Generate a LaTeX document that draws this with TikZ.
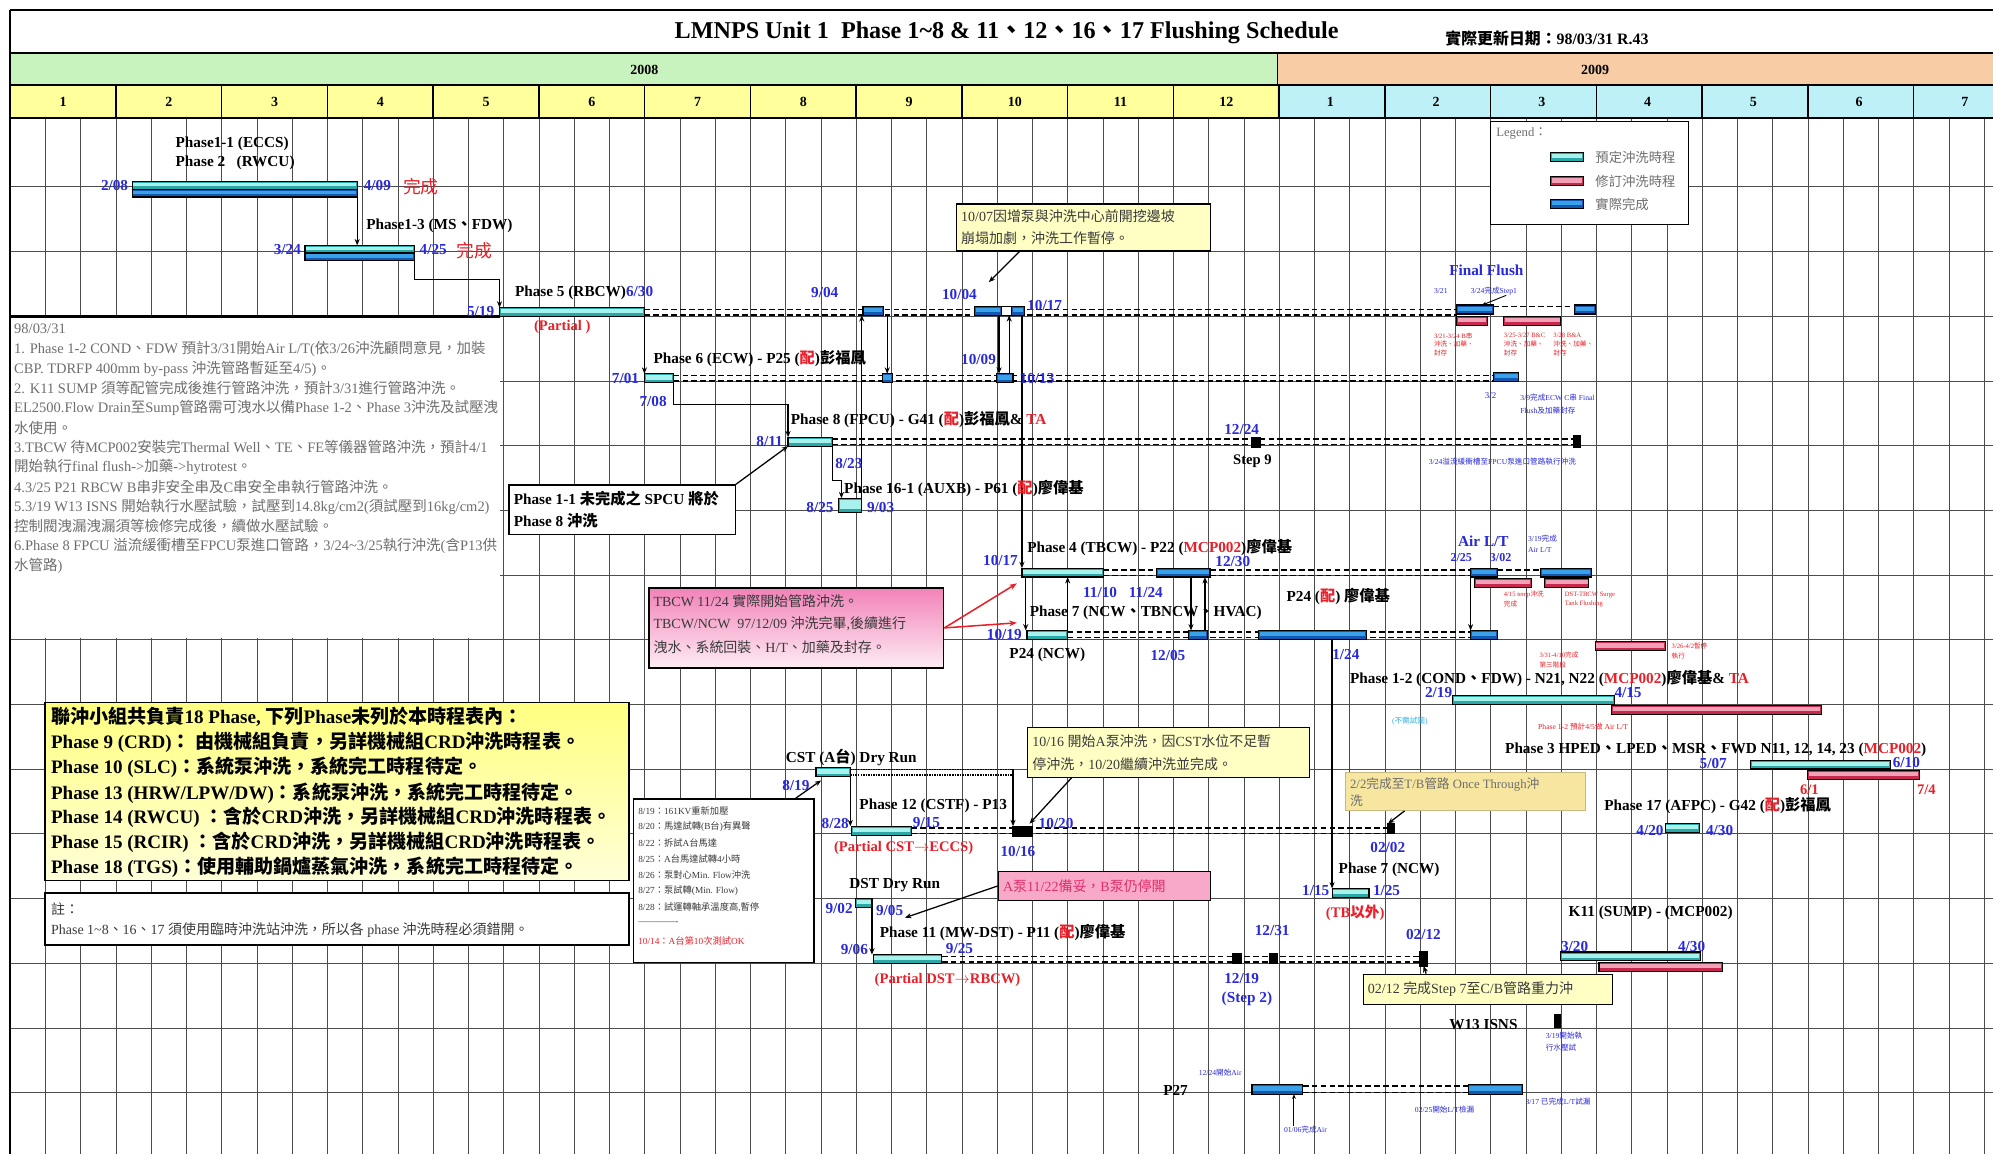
\documentclass[tikz,border=0pt]{standalone}
\usepackage{fontspec}
\setmainfont{Liberation Serif}
\newfontfamily\cjkfont{Noto Sans CJK TC}
\usetikzlibrary{arrows.meta}
\pgfdeclarelayer{bglayer}
\pgfdeclarelayer{gridlayer}
\pgfdeclarelayer{dashlayer}
\pgfsetlayers{bglayer,gridlayer,dashlayer,main}
\XeTeXinterchartokenstate=1
\newXeTeXintercharclass\CJKclass
\newcount\cjkc
\def\setcjkrange#1#2{\cjkc=#1\relax
  \loop\XeTeXcharclass\cjkc=\CJKclass\relax
  \ifnum\cjkc<#2\relax\advance\cjkc by 1\relax\repeat}
\setcjkrange{"3000}{"303F}
\setcjkrange{"4E00}{"9FFF}
\setcjkrange{"FF00}{"FFEF}
\XeTeXinterchartoks 0 \CJKclass = {\begingroup\cjkfont}
\XeTeXinterchartoks 4095 \CJKclass = {\begingroup\cjkfont}
\XeTeXinterchartoks \CJKclass 0 = {\endgroup}
\XeTeXinterchartoks \CJKclass 4095 = {\endgroup}
\definecolor{dblue}{HTML}{2A2AD8}
\definecolor{dred}{HTML}{E8202A}
\definecolor{gtext}{HTML}{6E6E6E}
\definecolor{ntext}{HTML}{3A3A3A}
\definecolor{cyanF}{HTML}{2AA8A8}
\definecolor{cyanS}{HTML}{A8F2EE}
\definecolor{blueF}{HTML}{1258B0}
\definecolor{blueS}{HTML}{3AA0EA}
\definecolor{pinkF}{HTML}{C82850}
\definecolor{pinkS}{HTML}{F2A0B6}
\definecolor{yr08}{HTML}{C8F2BE}
\definecolor{yr09}{HTML}{F8CCA4}
\definecolor{mo08}{HTML}{FFFF9C}
\definecolor{mo09}{HTML}{BEF0F8}
\definecolor{noteY}{HTML}{FFFFC4}
\definecolor{noteYY}{HTML}{F6E6A0}
\definecolor{bigY}{HTML}{FFFF80}
\definecolor{bigYb}{HTML}{FFFFD8}
\definecolor{noteP}{HTML}{F282B8}
\definecolor{notePP}{HTML}{F8A8C8}
\definecolor{pinkT}{HTML}{E0306A}
\definecolor{tcyan}{HTML}{30B0E0}
\newcommand\gb[5]{\pgfmathsetmacro\gbw{#4-#3}\node[#2, minimum width=\gbw pt, anchor=north west] (#1) at (#3,#5) {};}
\newcommand\boxnode[6]{\pgfmathsetmacro\bxw{#5-#3}\pgfmathsetmacro\bxh{#6-#4}\node[#2, minimum width=\bxw pt, minimum height=\bxh pt, anchor=north west, inner sep=0pt] (#1) at (#3,#4) {};}
\newcommand\ddl[3][dl]{\draw[#1] ([yshift=-1.3pt]#2.north east) -- ([yshift=-1.3pt]#2.north east -| #3.west); \draw[#1] ([yshift=1.3pt]#2.south east) -- ([yshift=1.3pt]#2.south east -| #3.west);}
\tikzset{
 gbar/.style={draw=black, line width=0.9pt, inner sep=0pt, outer sep=0pt, minimum height=#1},
 striped/.style 2 args={fill=#1, path picture={\fill[#2] ([xshift=1pt,yshift=-1.2pt]path picture bounding box.north west) rectangle ([xshift=-1pt,yshift=2.4pt]path picture bounding box.south east);}},
 cb/.style={gbar=#1, striped={cyanF}{cyanS}}, cb/.default=7pt,
 bb/.style={gbar=#1, striped={blueF}{blueS}}, bb/.default=7pt,
 pb/.style={gbar=#1, striped={pinkF}{pinkS}}, pb/.default=7pt,
 mk/.style={gbar=#1, fill=black}, mk/.default=8pt,
 wb/.style={gbar=7pt, fill=white},
 notebox/.style={draw=black, line width=1pt},
 ph/.style={anchor=west, inner sep=0pt, font=\fontsize{12}{14}\selectfont\bfseries},
 dt/.style={anchor=west, inner sep=0pt, font=\fontsize{12}{14}\selectfont\bfseries, text=dblue},
 dte/.style={dt, anchor=east},
 rdt/.style={anchor=west, inner sep=0pt, font=\fontsize{11.5}{14}\selectfont\bfseries, text=dred},
 done/.style={anchor=west, inner sep=0pt, font=\fontsize{14}{16}\selectfont, text=dred},
 tb/.style={anchor=west, inner sep=0pt, font=\fontsize{6}{7}\selectfont, text=dblue},
 tr/.style={anchor=west, inner sep=0pt, font=\fontsize{5.2}{6.5}\selectfont, text=dred},
 gt/.style={anchor=west, inner sep=0pt, font=\fontsize{11.4}{13}\selectfont, text=gtext},
 nt/.style={anchor=west, inner sep=0pt, font=\fontsize{11}{13}\selectfont, text=ntext},
 yb/.style={anchor=west, inner sep=0pt, font=\fontsize{15}{18}\selectfont\bfseries},
 sm/.style={anchor=west, inner sep=0pt, font=\fontsize{7.3}{8}\selectfont, text=ntext},
 mol/.style={inner sep=0pt, font=\fontsize{11}{13}\selectfont\bfseries},
 gridl/.style={line width=0.6pt, black!70},
 dl/.style={dash pattern=on 4.5pt off 2.5pt, line width=1.1pt},
 dd/.style={dash pattern=on 1.2pt off 0.8pt, line width=1.1pt},
 ar/.style={-{Stealth[length=5pt,width=4pt]}, line width=1pt},
 ars/.style={-{Stealth[length=3.5pt,width=3pt]}, line width=0.7pt},
 rar/.style={-{Stealth[length=6pt,width=4.5pt]}, line width=1.2pt, draw=dred, fill=dred},
}
\begin{document}
\begin{tikzpicture}[x=1pt,y=-1pt]
\useasboundingbox (0,0) rectangle (1568,908);
\begin{pgfonlayer}{bglayer}
\fill[white] (0,0) rectangle (1568,908);
\end{pgfonlayer}
% ---------- grid ----------
\begin{pgfonlayer}{gridlayer}
\foreach \i in {1,...,56} \draw[gridl] ({8+27.733*\i},93) -- ({8+27.733*\i},908);
\foreach \j in {0,...,15} \draw[gridl] (8,{147+50.9*\j}) -- (1568,{147+50.9*\j});
\end{pgfonlayer}
% ---------- header ----------
\fill[white] (8,8) rectangle (1568,42);
\fill[yr08] (8,42) rectangle (1005,67);
\fill[yr09] (1005,42) rectangle (1568,67);
\fill[mo08] (8,67) rectangle (1005,93);
\fill[mo09] (1005,67) rectangle (1568,93);
\foreach \k in {1,...,18} \draw[line width=1.2pt] ({8+83.2*\k},67) -- ({8+83.2*\k},93);
\draw[line width=1.2pt] (1005,42) -- (1005,67);
\foreach \yy in {8,42,67,93} \draw[line width=1.6pt] (8,\yy) -- (1568,\yy);
\draw[line width=1.6pt] (8,8) -- (8,908);
\node[inner sep=0pt, font=\fontsize{19}{22}\selectfont\bfseries] (title) at (792,26) {LMNPS Unit 1\ \ Phase 1\textasciitilde 8 \& 11、12、16、17 Flushing Schedule};
\node[anchor=west, inner sep=0pt, font=\fontsize{12.5}{14}\selectfont\bfseries] (upd) at (1137,30) {實際更新日期：98/03/31 R.43};
\node[mol] (y08) at (507,55) {2008};
\node[mol] (y09) at (1255,55) {2009};
\foreach \k in {1,...,12} \node[mol] (ma\k) at ({8+83.2*(\k-0.5)},80) {\k};
\foreach \k in {1,...,7} \node[mol] (mb\k) at ({1005+83.2*(\k-0.5)},80) {\k};
% ---------- white text area & boxes ----------
\fill[white] (9,250) rectangle (393.5,502);
\draw[line width=1.6pt] (8,249) -- (393.5,249);
\boxnode{leg}{notebox, line width=0.8pt, fill=white}{1172}{95}{1328}{176}
\boxnode{n0}{notebox, fill=noteY}{752}{160}{952}{197}
\boxnode{n1}{notebox, fill=white}{400}{381}{578}{420}
\boxnode{n2}{notebox, top color=noteP, bottom color=noteP!15!white}{510}{462}{742}{525}
\boxnode{n3}{notebox, fill=noteYY, draw=noteYY!80!black}{1058}{607}{1247}{637}
\boxnode{n4}{notebox, fill=noteY}{808}{572}{1030}{611}
\boxnode{n5}{notebox, fill=white}{498}{628}{640}{757}
\boxnode{n6}{notebox, fill=notePP}{785}{685}{952}{708}
\boxnode{n7}{notebox, fill=noteY}{1072}{766}{1268}{790}
\boxnode{n8}{notebox, line width=1.3pt, top color=bigY, bottom color=bigYb}{35}{552}{494}{692}
\boxnode{n9}{notebox, line width=1.3pt, fill=white}{35}{702}{494}{743}
% ---------- bars ----------
\gb{lg1}{cb}{1220}{1246}{120}
\gb{lg2}{pb}{1220}{1246}{139}
\gb{lg3}{bb}{1220}{1246}{157}
\gb{b1c}{cb=6pt}{104}{281}{143}
\gb{b1b}{bb=6pt}{104}{281}{149}
\gb{b3c}{cb=6pt}{240}{326}{193}
\gb{b3b}{bb=6pt}{240}{326}{199}
\gb{b5}{cb}{393}{507}{242}
\gb{b904}{bb}{679}{695}{241}
\gb{b1004}{bb}{767}{788}{241}
\gb{bwx}{wb}{788}{796}{241}
\gb{b1017}{bb}{796}{806}{241}
\gb{ff1}{bb}{1146}{1175}{240}
\gb{ff2}{pb}{1146}{1170}{249}
\gb{ff3}{pb}{1183}{1228}{249}
\gb{ff4}{bb}{1239}{1255}{240}
\gb{b6}{cb}{507}{530}{294}
\gb{b6a}{bb}{694}{702}{294}
\gb{b6b}{bb}{784}{797}{294}
\gb{b6c}{bb}{1175}{1195}{293}
\gb{b8}{cb}{620}{655}{344}
\gb{bk1}{mk=8pt}{985}{992}{344}
\gb{bk2}{mk=9pt}{1238}{1243}{343}
\gb{b16}{cb=11pt}{660}{678}{392}
\gb{b4}{cb}{804}{868}{447}
\gb{b4b}{bb}{910}{952}{447}
\gb{b7}{cb}{808}{840}{496}
\gb{b7b}{bb}{935}{950}{496}
\gb{b7c}{bb}{990}{1075}{496}
\gb{b7d}{bb}{1157}{1178}{496}
\gb{al1}{bb}{1157}{1178}{447}
\gb{al2}{pb}{1160}{1205}{455}
\gb{al3}{bb}{1212}{1252}{447}
\gb{al4}{pb}{1215}{1250}{455}
\gb{ps}{pb}{1255}{1310}{505}
\gb{p12}{cb}{1143}{1270}{547}
\gb{p12r}{pb}{1268}{1433}{555}
\gb{p3}{cb}{1377}{1487}{598}
\gb{p3r}{pb}{1422}{1510}{606}
\gb{p17}{cb}{1310}{1337}{648}
\gb{bk3}{mk=8pt}{1092}{1097}{648}
\gb{cst}{cb}{642}{669}{604}
\gb{p12b}{cb}{670}{717}{650}
\gb{bk4}{mk=8pt}{797}{812}{650}
\gb{dst}{cb}{673}{686}{707}
\gb{p11}{cb}{687}{741}{751}
\gb{bk5}{mk=8pt}{970}{977}{750}
\gb{bk6}{mk=8pt}{999}{1005}{750}
\gb{bk7}{mk=11pt}{1117}{1123}{749}
\gb{p7n}{cb}{1048}{1077}{699}
\gb{k11}{cb}{1228}{1338}{749}
\gb{k11r}{pb}{1258}{1355}{757}
\gb{bk8}{mk=10pt}{1223}{1228}{798}
\gb{p27a}{bb=8pt}{985}{1025}{853}
\gb{p27b}{bb=8pt}{1155}{1198}{853}
% ---------- dashed continuation lines ----------
\begin{pgfonlayer}{dashlayer}
\ddl{b5}{ff1}
\draw[dl] ([yshift=-1.3pt]ff1.north east) -- ([yshift=-1.3pt]ff1.north east -| ff4.west);
\ddl{b6}{b6c}
\ddl{b8}{bk2}
\ddl{b4}{al1}
\draw[dl] ([yshift=-1.3pt]al1.north east) -- ([yshift=-1.3pt]al1.north east -| al3.west);
\ddl{b7}{b7d}
\ddl[dd]{cst}{bk4}
\ddl{p12b}{bk3}
\ddl{p11}{bk7}
\ddl{p27a}{p27b}
\end{pgfonlayer}
% ---------- connectors ----------
\draw[ar] (b1b.south east) -- (b1b.south east |- b3c.north);
\draw[ar] (b3b.south east) -- ++(0,15) -| (b5.north west);
\draw[ar] (b5.south east) -- (b6.north west);
\draw[ar] (b6.south east) -- ++(0,17) -| (b8.north west);
\draw[ar] (b8.south east) -- ++(0,27) -| ([xshift=2pt]b16.north west);
\draw[ar] (b16.north east) -- (b16.north east |- b904.south);
\draw[ar] (b6a.north |- b904.south) -- (b6a.north);
\draw[ar] ([xshift=2pt]b6b.north west |- b1004.south) -- ([xshift=2pt]b6b.north west);
\draw[ar] ([xshift=-3pt]b6b.north east) -- ([xshift=-3pt]b6b.north east |- b1004.south);
\draw[ar] (b4.north west |- b1017.south) -- (b4.north west);
\draw[ar] ([xshift=3pt]b4.south west) -- ([xshift=3pt]b4.south west |- b7.north);
\draw[ar] (b7.north east) -- (b7.north east |- b4.south);
\draw[ar] ([xshift=2pt]b7b.north west |- b4b.south) -- ([xshift=2pt]b7b.north west);
\draw[ar] ([xshift=-2pt]b7b.north east) -- ([xshift=-2pt]b7b.north east |- b4b.south);
\draw[ar] (al1.south west) -- (b7d.north west);
\draw[ar] (p7n.north west |- b7c.south) -- (p7n.north west);
\draw[ar] (cst.south east) -- (cst.south east |- p12b.north);
\draw[ar] ([yshift=-1.3pt]cst.north east -| bk4.west) -- (bk4.north west);
\draw[ar] (dst.south east) -- (dst.south east |- p11.north);
\draw[ar] ([xshift=50pt]n0.south west) -- ([xshift=11pt,yshift=19pt]b1004.north west);
\draw[ar] (n1.north east) -- (b8.south west);
\draw[rar] (n2.east) -- ([xshift=-4pt,yshift=-5pt]b4.south west);
\draw[rar] (n2.east) -- ([xshift=-8pt,yshift=6pt]b7.north west);
\draw[ar] ([xshift=35pt]n4.south west) -- ([xshift=13pt,yshift=2pt]bk4.north west);
\draw[ar] ([xshift=-15pt]n5.north east) -- ([xshift=4pt,yshift=-3pt]cst.south west);
\draw[ar] (n6.west) -- ([xshift=39pt,yshift=-8pt]dst.south west);
\draw[ar] ([xshift=47pt]n3.south west) -- (bk3.north west);
\draw[ar] ([xshift=50pt]n7.north west) -- (bk7.south);
% ---------- legend ----------
\node[gt, font=\fontsize{10}{12}\selectfont] (legt) at (1177,105) {Legend：};
\node[gt, font=\fontsize{10.5}{12}\selectfont] (lgt1) at (1255,124) {預定沖洗時程};
\node[gt, font=\fontsize{10.5}{12}\selectfont] (lgt2) at (1255,143) {修訂沖洗時程};
\node[gt, font=\fontsize{10.5}{12}\selectfont] (lgt3) at (1255,161) {實際完成};
% ---------- row texts ----------
\node[ph] (t11) at (138,113) {Phase1-1 (ECCS)};
\node[ph] (t2) at (138,128) {Phase 2\ \ \ (RWCU)};
\node[dte] (d208) at (101,146) {2/08};
\node[dt] (d409) at (286,146) {4/09};
\node[done] (c1) at (317,147) {完成};
\node[ph] (t13) at (288,178) {Phase1-3 (MS、FDW)};
\node[dte] (d324) at (237,196) {3/24};
\node[dt] (d425) at (330,196) {4/25};
\node[done] (c2) at (359,197) {完成};
\node[ph] (t5) at (405,230) {Phase 5 (RBCW)\textcolor{dblue}{6/30}};
\node[dte] (d519) at (389,245) {5/19};
\node[rdt] (p5p) at (420,257) {(Partial )};
\node[dt] (d904) at (638,230) {9/04};
\node[dt] (d1004) at (741,232) {10/04};
\node[dt] (d1017) at (808,240) {10/17};
\node[nt] (n0a) at (756,170) {10/07因增泵與沖洗中心前開挖邊坡};
\node[nt] (n0b) at (756,187) {崩塌加劇，沖洗工作暫停。};
\node[dt] (ffl) at (1140,213) {Final Flush};
\node[tb] (ff321) at (1128,229) {3/21};
\node[tb] (ff324) at (1157,229) {3/24完成Step1};
\draw[ars] ([xshift=28pt]ff324.south west) -- ([xshift=20pt]ff1.north west);
\node[tr] (fr1) at (1128,264) {3/21-3/24 B串};
\node[tr] (fr2) at (1128,271) {沖洗、加藥、};
\node[tr] (fr3) at (1128,278) {封存};
\node[tr] (fr4) at (1183,264) {3/25-3/27 B\&C};
\node[tr] (fr5) at (1183,271) {沖洗、加藥、};
\node[tr] (fr6) at (1183,278) {封存};
\node[tr] (fr7) at (1222,264) {3/28 B\&A};
\node[tr] (fr8) at (1222,271) {沖洗、加藥、};
\node[tr] (fr9) at (1222,278) {封存};
\node[ph] (t6) at (514,282) {Phase 6 (ECW) - P25 (\textcolor{dred}{配})彭福鳳};
\node[dte] (d701) at (503,298) {7/01};
\node[dt] (d708) at (503,316) {7/08};
\node[dt] (d1009) at (756,283) {10/09};
\node[dt] (d1013) at (802,298) {10/13};
\node[tb, font=\fontsize{7}{8}\selectfont] (d32) at (1168,311) {3/2};
\node[tb] (t39a) at (1196,313) {3/9完成ECW C串 Final};
\node[tb] (t39b) at (1196,323) {Flush及加藥封存};
\node[ph] (t8) at (622,330) {Phase 8 (FPCU) - G41 (\textcolor{dred}{配})彭福鳳\& \textcolor{dred}{TA}};
\node[dte] (d811) at (616,347) {8/11};
\node[dt] (d1224) at (963,338) {12/24};
\node[ph, font=\fontsize{11.5}{13}\selectfont\bfseries] (st9) at (970,363) {Step 9};
\node[tb] (t324) at (1124,363) {3/24溢流緩衝槽至FPCU泵進口管路執行沖洗};
\node[dt] (d823) at (657,365) {8/23};
\node[ph] (t161) at (664,384) {Phase 16-1 (AUXB) - P61 (\textcolor{dred}{配})廖偉基};
\node[dte] (d825) at (656,399) {8/25};
\node[dt] (d903) at (682,399) {9/03};
\node[ph] (n1a) at (404,392) {Phase 1-1 未完成之 SPCU 將於};
\node[ph] (n1b) at (404,410) {Phase 8 沖洗};
% left notes
\node[gt] (g0) at (11,259) {98/03/31};
\node[gt] (g1) at (11,274.5) {1. Phase 1-2 COND、FDW 預計3/31開始Air L/T(依3/26沖洗顧問意見，加裝};
\node[gt] (g2) at (11,290) {CBP. TDRFP 400mm by-pass 沖洗管路暫延至4/5)。};
\node[gt] (g3) at (11,305.5) {2. K11 SUMP 須等配管完成後進行管路沖洗，預計3/31進行管路沖洗。};
\node[gt] (g4) at (11,321) {EL2500.Flow Drain至Sump管路需可洩水以備Phase 1-2、Phase 3沖洗及試壓洩};
\node[gt] (g5) at (11,336.5) {水使用。};
\node[gt] (g6) at (11,352) {3.TBCW 待MCP002安裝完Thermal Well、TE、FE等儀器管路沖洗，預計4/1};
\node[gt] (g7) at (11,367.5) {開始執行final flush->加藥->hytrotest。};
\node[gt] (g8) at (11,383) {4.3/25 P21 RBCW B串非安全串及C串安全串執行管路沖洗。};
\node[gt] (g9) at (11,398.5) {5.3/19 W13 ISNS 開始執行水壓試驗，試壓到14.8kg/cm2(須試壓到16kg/cm2)};
\node[gt] (g10) at (11,414) {控制閥洩漏洩漏須等檢修完成後，續做水壓試驗。};
\node[gt] (g11) at (11,429.5) {6.Phase 8 FPCU 溢流緩衝槽至FPCU泵進口管路，3/24\textasciitilde 3/25執行沖洗(含P13供};
\node[gt] (g12) at (11,445) {水管路)};
% phase 4 / 7
\node[ph] (t4) at (808,431) {Phase 4 (TBCW) - P22 (\textcolor{dred}{MCP002})廖偉基};
\node[dte] (d1017b) at (801,441) {10/17};
\node[dt] (d1230) at (956,442) {12/30};
\node[dt] (d1110) at (852,466) {11/10};
\node[dt] (d1124) at (888,466) {11/24};
\node[ph] (tp24) at (1012,469) {P24 (\textcolor{dred}{配}) 廖偉基};
\node[ph] (t7) at (810,482) {Phase 7 (NCW、TBNCW、HVAC)};
\node[dte] (d1019) at (804,499) {10/19};
\node[ph] (tp24n) at (794,515) {P24 (NCW)};
\node[dt] (d1205) at (905,516) {12/05};
\node[dt] (d124) at (1048,515) {1/24};
\node[nt] (n2a) at (514,473) {TBCW 11/24 實際開始管路沖洗。};
\node[nt] (n2b) at (514,491) {TBCW/NCW\ \ 97/12/09 沖洗完畢,後續進行};
\node[nt] (n2c) at (514,509) {洩水、系統回裝、H/T、加藥及封存。};
% air l/t
\node[dt] (alt) at (1147,426) {Air L/T};
\node[dt, font=\fontsize{9.5}{11}\selectfont\bfseries] (d225) at (1141,439) {2/25};
\node[dt, font=\fontsize{9.5}{11}\selectfont\bfseries] (d302) at (1172,439) {3/02};
\node[tb] (t319a) at (1202,424) {3/19完成};
\node[tb] (t319b) at (1202,433) {Air L/T};
\node[tr] (t415a) at (1183,468) {4/15 temp沖洗};
\node[tr] (t415b) at (1183,475) {完成};
\node[tr] (tdsa) at (1231,468) {DST-TBCW Surge};
\node[tr] (tdsb) at (1231,475) {Tank Flushing};
\node[tr] (t331a) at (1211,515) {3/31-4/10完成};
\node[tr] (t331b) at (1211,523) {第三階段};
\node[tr] (t326a) at (1315,508) {3/26-4/2暫停};
\node[tr] (t326b) at (1315,516) {執行};
% phase 1-2, 3, 17
\node[ph] (t12) at (1062,534) {Phase 1-2 (COND、FDW) - N21, N22 (\textcolor{dred}{MCP002})廖偉基\& \textcolor{dred}{TA}};
\node[dt] (d219) at (1121,545) {2/19};
\node[dt] (d415) at (1270,545) {4/15};
\node[tb, text=tcyan] (tnt) at (1095,567) {(不需試圖)};
\node[tr, font=\fontsize{6}{7}\selectfont] (t12n) at (1210,572) {Phase 1-2 預計4/5做 Air L/T};
\node[ph] (t3) at (1184,590) {Phase 3 HPED、LPED、MSR、FWD N11, 12, 14, 23 (\textcolor{dred}{MCP002})};
\node[dt] (d507) at (1337,601) {5/07};
\node[dt] (d610) at (1489,600) {6/10};
\node[rdt] (d61) at (1416,621) {6/1};
\node[rdt] (d74) at (1508,621) {7/4};
\node[ph] (t17) at (1262,634) {Phase 17 (AFPC) - G42 (\textcolor{dred}{配})彭福鳳};
\node[dte] (d420) at (1309,653) {4/20};
\node[dt] (d430) at (1342,653) {4/30};
\node[nt, text=gtext, font=\fontsize{10}{12}\selectfont] (n3a) at (1062,617) {2/2完成至T/B管路 Once Through沖};
\node[nt, text=gtext, font=\fontsize{10}{12}\selectfont] (n3b) at (1062,630) {洗};
\node[dt] (d0202) at (1078,667) {02/02};
% CST / phase 12
\node[ph] (tcst) at (618,596) {CST (A台) Dry Run};
\node[dte] (d819) at (637,618) {8/19};
\node[ph] (tp12) at (676,634) {Phase 12 (CSTF) - P13};
\node[dte] (d828) at (668,648) {8/28};
\node[dt] (d915) at (718,647) {9/15};
\node[rdt] (pc) at (656,667) {(Partial CST$\rightarrow$ECCS)};
\node[dt] (d1020) at (817,648) {10/20};
\node[dt] (d1016) at (787,670) {10/16};
\node[nt] (n4a) at (812,583) {10/16 開始A泵沖洗，因CST水位不足暫};
\node[nt] (n4b) at (812,601) {停沖洗，10/20繼續沖洗並完成。};
\node[sm] (s1) at (502,638) {8/19：161KV重新加壓};
\node[sm] (s2) at (502,650.6) {8/20：馬達試轉(B台)有異聲};
\node[sm] (s3) at (502,663.2) {8/22：拆試A台馬達};
\node[sm] (s4) at (502,675.8) {8/25：A台馬達試轉4小時};
\node[sm] (s5) at (502,688.4) {8/26：泵對心Min. Flow沖洗};
\node[sm] (s6) at (502,701) {8/27：泵試轉(Min. Flow)};
\node[sm] (s7) at (502,713.6) {8/28：試運轉軸承溫度高,暫停};
\node[sm] (s8) at (502,726.2) {-------------};
\node[sm, text=dred] (s9) at (502,740) {10/14：A台第10次測試OK};
% DST / phase 11
\node[ph] (tdst) at (668,696) {DST Dry Run};
\node[dte] (d902) at (671,715) {9/02};
\node[dt] (d905) at (689,716) {9/05};
\node[nt, text=pinkT] (n6a) at (789,697) {A泵11/22備妥，B泵仍停開};
\node[ph] (t11b) at (692,734) {Phase 11 (MW-DST) - P11 (\textcolor{dred}{配})廖偉基};
\node[dte] (d906) at (683,747) {9/06};
\node[dt] (d925) at (744,746) {9/25};
\node[rdt] (pd) at (688,771) {(Partial DST$\rightarrow$RBCW)};
\node[dt] (d1231) at (987,732) {12/31};
\node[dt] (d1219) at (963,770) {12/19};
\node[dt] (dst2) at (961,786) {(Step 2)};
\node[dt] (d0212) at (1106,735) {02/12};
\node[nt] (n7a) at (1076,778) {02/12 完成Step 7至C/B管路重力沖};
% phase 7 NCW, K11, W13, P27
\node[ph] (t7n) at (1053,684) {Phase 7 (NCW)};
\node[dte] (d115) at (1046,701) {1/15};
\node[dt] (d125) at (1080,701) {1/25};
\node[rdt] (tbx) at (1043,718) {(TB以外)};
\node[ph] (tk11) at (1234,718) {K11 (SUMP) - (MCP002)};
\node[dt] (d320) at (1228,745) {3/20};
\node[dt] (d430b) at (1320,745) {4/30};
\node[ph] (tw13) at (1140,806) {W13 ISNS};
\node[tb] (tw1) at (1216,815) {3/19開始執};
\node[tb] (tw2) at (1216,824) {行水壓試};
\node[ph] (tp27) at (915,858) {P27};
\node[tb] (t1224) at (943,844) {12/24開始Air};
\node[tb] (t0225) at (1113,873) {02/25開始L/T檢漏};
\node[tb] (t317) at (1200,867) {3/17 已完成L/T試漏};
\node[tb] (t0106) at (1010,889) {01/06完成Air};
\draw[ars] ([xshift=8pt]t0106.north west) -- ([xshift=8pt]t0106.north west |- p27a.south);
% big yellow box
\node[yb] (y1) at (40,564) {聯沖小組共負責18 Phase, 下列Phase未列於本時程表內：};
\node[yb] (y2) at (40,584) {Phase 9 (CRD)： 由機械組負責，另詳機械組CRD沖洗時程表。};
\node[yb] (y3) at (40,604) {Phase 10 (SLC)：系統泵沖洗，系統完工時程待定。};
\node[yb] (y4) at (40,624) {Phase 13 (HRW/LPW/DW)：系統泵沖洗，系統完工時程待定。};
\node[yb] (y5) at (40,643) {Phase 14 (RWCU) ：含於CRD沖洗，另詳機械組CRD沖洗時程表。};
\node[yb] (y6) at (40,663) {Phase 15 (RCIR) ：含於CRD沖洗，另詳機械組CRD沖洗時程表。};
\node[yb] (y7) at (40,682) {Phase 18 (TGS)：使用輔助鍋爐蒸氣沖洗，系統完工時程待定。};
\node[nt] (z1) at (40,715) {註：};
\node[nt] (z2) at (40,732) {Phase 1\textasciitilde 8、16、17 須使用臨時沖洗站沖洗，所以各 phase 沖洗時程必須錯開。};
\end{tikzpicture}
\end{document}
